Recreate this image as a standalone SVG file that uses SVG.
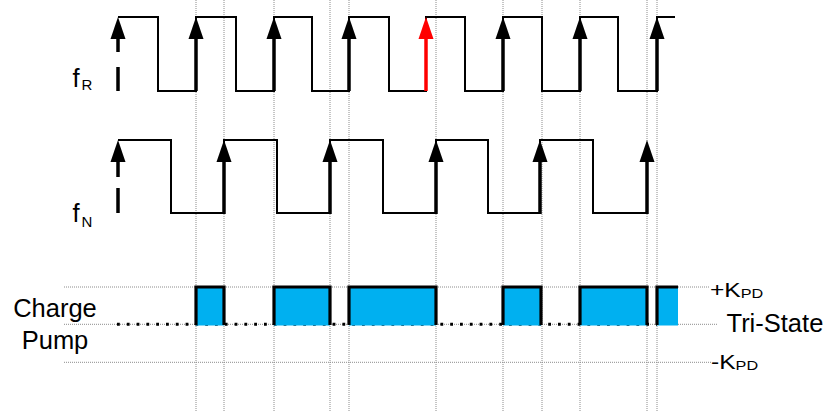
<svg xmlns="http://www.w3.org/2000/svg" xmlns:xlink="http://www.w3.org/1999/xlink" width="827" height="415" viewBox="0 0 827 415">
<style>
.grid{stroke:#8c8c8c;stroke-width:1;stroke-dasharray:1 1;fill:none}
.wave{stroke:#000;stroke-width:2;fill:none}
.shaft{stroke:currentColor;stroke-width:3.5}
.lbl{font-family:"Liberation Sans",Arial,sans-serif;fill:#000}
.pulse{fill:#00B0F0;stroke:none}
.edge{stroke:#000;stroke-width:3.2;fill:none}
.dots{stroke:#000;stroke-width:3;stroke-dasharray:2.8 7;fill:none}
</style>
<defs>
<g id="arrow">
<line class="shaft" x1="0" y1="20" x2="0" y2="74"/>
<polygon points="0,0 -7.5,22 7.5,22" fill="currentColor"/>
</g>
</defs>
<g id="grid">
<path class="grid" d="M196,0V411M224,0V411M274,0V411M330,0V411M349,0V411M436,0V411M503,0V411M542,0V411M580,0V411M647,0V411M657,0V411"/>
<path class="grid" d="M64,287H710M64,324.3H717M64,362.3H712"/>
</g>
<g id="fR-signal">
<path class="wave" d="M118,17H158V91H196V17H236V91H274V17H312V91H349V17H389V91H426V17H465V91H503V17H542V91H580V17H618V91H657V17H675"/>
<polygon points="118,17 110.5,39 125.5,39" fill="#000"/>
<line x1="118" y1="38" x2="118" y2="52" stroke="#000" stroke-width="3.5"/>
<line x1="118" y1="67" x2="118" y2="91" stroke="#000" stroke-width="3.5"/>
<use xlink:href="#arrow" x="196" y="17" style="color:#000"/>
<use xlink:href="#arrow" x="274" y="17" style="color:#000"/>
<use xlink:href="#arrow" x="349" y="17" style="color:#000"/>
<use xlink:href="#arrow" x="426" y="17" style="color:#ff0000"/>
<use xlink:href="#arrow" x="503" y="17" style="color:#000"/>
<use xlink:href="#arrow" x="580" y="17" style="color:#000"/>
<use xlink:href="#arrow" x="657" y="17" style="color:#000"/>
<text class="lbl" x="72.5" y="87" font-size="25.5">f<tspan x="81.5" y="90" font-size="15">R</tspan></text>
</g>
<g id="fN-signal">
<path class="wave" d="M118,140H171V213H224V140H277V213H330V140H383V213H436V140H488V213H540V140H593V213H647"/>
<polygon points="118,140 110.5,162 125.5,162" fill="#000"/>
<line x1="118" y1="161" x2="118" y2="177" stroke="#000" stroke-width="3.5"/>
<line x1="118" y1="188" x2="118" y2="213" stroke="#000" stroke-width="3.5"/>
<use xlink:href="#arrow" x="224" y="140" style="color:#000"/>
<use xlink:href="#arrow" x="330" y="140" style="color:#000"/>
<use xlink:href="#arrow" x="436" y="140" style="color:#000"/>
<use xlink:href="#arrow" x="540" y="140" style="color:#000"/>
<use xlink:href="#arrow" x="647" y="140" style="color:#000"/>
<text class="lbl" x="72.5" y="222" font-size="25.5">f<tspan x="81.5" y="227" font-size="15">N</tspan></text>
</g>
<g id="charge-pump">
<line class="dots" x1="117" y1="324.3" x2="657" y2="324.3"/>
<rect class="pulse" x="196" y="287" width="28" height="38.5"/>
<rect class="pulse" x="274" y="287" width="56" height="38.5"/>
<rect class="pulse" x="349" y="287" width="87" height="38.5"/>
<rect class="pulse" x="503" y="287" width="38" height="38.5"/>
<rect class="pulse" x="580" y="287" width="67" height="38.5"/>
<rect class="pulse" x="657" y="287" width="21" height="38.5"/>
<path class="edge" d="M196,325V287H224V325"/>
<path class="edge" d="M274,325V287H330V325"/>
<path class="edge" d="M349,325V287H436V325"/>
<path class="edge" d="M503,325V287H541V325"/>
<path class="edge" d="M580,325V287H647V325"/>
<path class="edge" d="M657,325V287H678"/>
<text class="lbl" x="55" y="317" font-size="25.5" text-anchor="middle">Charge</text>
<text class="lbl" x="55" y="349" font-size="25.5" text-anchor="middle">Pump</text>
</g>
<g id="levels">
<g transform="translate(710,297) scale(1.2,1)">
<text class="lbl" x="0" y="0" font-size="20.5">+K<tspan font-size="13.5" dy="1">PD</tspan></text>
</g>
<text class="lbl" x="726.5" y="331.7" font-size="25.5">Tri-State</text>
<g transform="translate(711,368.5) scale(1.2,1)">
<text class="lbl" x="0" y="0" font-size="20.5">-K<tspan font-size="13.5" dy="1">PD</tspan></text>
</g>
</g>
</svg>
